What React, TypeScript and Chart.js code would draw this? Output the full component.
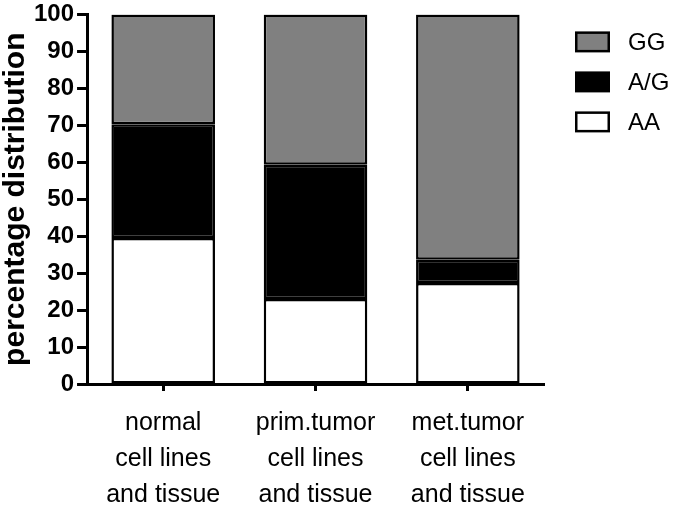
import React, { useEffect, useRef } from "react";
import { Chart, registerables } from "chart.js";

Chart.register(...registerables);

const categories: string[][] = [
  ["normal", "cell lines", "and tissue"],
  ["prim.tumor", "cell lines", "and tissue"],
  ["met.tumor", "cell lines", "and tissue"],
];
const aaValues = [39.5, 23.0, 27.3];
const agValues = [30.8, 36.3, 6.3];
const ggValues = [29.7, 40.7, 66.4];
const yTicks = [0, 10, 20, 30, 40, 50, 60, 70, 80, 90, 100];
const yTitle = "percentage distribution";

const sans = "'Liberation Sans', Arial, sans-serif";

const sideLegend = {
  id: "sideLegend",
  afterDraw(chart: any) {
    const { ctx, chartArea } = chart;
    const ds = [...chart.data.datasets].reverse();
    const x0 = chartArea.right + 31;
    ctx.save();
    ds.forEach((d: any, i: number) => {
      const top = chartArea.top + 17 + i * 40;
      const w = 35, h = 21, lw = 2.5;
      ctx.fillStyle = d.backgroundColor;
      ctx.fillRect(x0 + lw / 2, top + lw / 2, w - lw, h - lw);
      ctx.strokeStyle = "#000";
      ctx.lineWidth = lw;
      ctx.strokeRect(x0 + lw / 2, top + lw / 2, w - lw, h - lw);
      ctx.fillStyle = "#000";
      ctx.font = `24px ${sans}`;
      ctx.textBaseline = "middle";
      ctx.textAlign = "left";
      ctx.fillText(d.label, x0 + 53, top + h / 2 + 1);
    });
    ctx.restore();
  },
};

export default function App() {
  const ref = useRef<HTMLCanvasElement>(null);
  useEffect(() => {
    const common = { borderColor: "#000", borderWidth: 2.5, borderSkipped: false as const, barPercentage: 0.68, categoryPercentage: 1 };
    const chart = new Chart(ref.current!, {
      type: "bar",
      data: {
        labels: categories,
        datasets: [
          { label: "AA", data: aaValues, backgroundColor: "#ffffff", ...common },
          { label: "A/G", data: agValues, backgroundColor: "#000000", ...common },
          { label: "GG", data: ggValues, backgroundColor: "#808080", ...common },
        ],
      },
      plugins: [sideLegend],
      options: {
        responsive: false,
        animation: false,
        layout: { padding: { top: 0, right: 129, bottom: 0, left: 0 } },
        plugins: {
          tooltip: { enabled: false },
          legend: { display: false },
        },
        scales: {
          x: {
            stacked: true,
            afterFit: (scale: any) => {
              scale.height = scale.height - 13;
            },
            grid: { offset: false, drawOnChartArea: false, drawTicks: true, tickLength: 7, tickColor: "#000", tickWidth: 3 },
            border: { display: true, color: "#000", width: 3 },
            ticks: { color: "#000", padding: 14, font: { family: sans, size: 25, lineHeight: "36px" }, maxRotation: 0, autoSkip: false },
          },
          y: {
            stacked: true,
            min: 0,
            max: 100,
            afterBuildTicks: (axis: any) => {
              axis.ticks = yTicks.map((v) => ({ value: v }));
            },
            grid: { drawOnChartArea: false, drawTicks: true, tickLength: 10, tickColor: "#000", tickWidth: 3 },
            border: { display: true, color: "#000", width: 3 },
            ticks: { color: "#000", padding: 3, font: { family: sans, size: 24, weight: "bold" } },
            title: { display: true, text: yTitle, color: "#000", padding: { top: 1, bottom: 0 }, font: { family: sans, size: 30, weight: "bold", lineHeight: 1.0 } },
          },
        },
      },
    });
    return () => chart.destroy();
  }, []);
  return (
    <div style={{ position: "absolute", left: 0, top: 0, width: 673, height: 505, overflow: "hidden", background: "#fff" }}>
      <canvas ref={ref} width={673} height={517} style={{ position: "absolute", left: 0, top: -3 }} />
    </div>
  );
}
